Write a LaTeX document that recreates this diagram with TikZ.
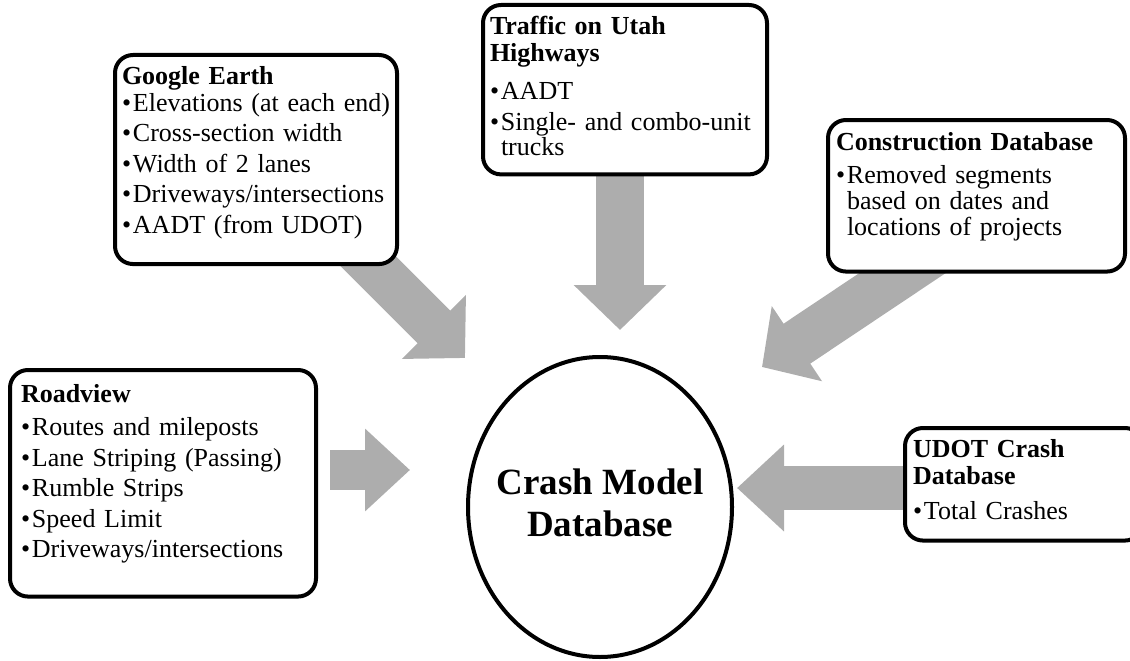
\documentclass[tikz,border=0pt]{standalone}
\usepackage{fontspec}
\setmainfont{Liberation Serif}
\usetikzlibrary{arrows.meta,shapes.geometric,backgrounds,calc}

\newcommand{\bul}[1]{\par\vspace{3.5pt}\noindent\makebox[11pt][l]{\textbullet}\begin{tabular}[t]{@{}l@{}}#1\end{tabular}}
\newcommand{\hd}[1]{{\bfseries #1}\par\vspace{3pt}}

\begin{document}
\begin{tikzpicture}[x=1pt,y=-1pt,
  srcbox/.style={draw=black,line width=4pt,rounded corners=18pt,fill=white,align=left,anchor=north west,inner xsep=8pt,inner ysep=11pt,font=\fontsize{26}{27}\selectfont},
  hub/.style={ellipse,draw=black,line width=4pt,fill=white,inner sep=0pt,minimum width=264pt,minimum height=300pt,font=\fontsize{37}{42}\selectfont\bfseries},
  feed/.style={draw=black!32,line width=#1pt},
  feed/.default=48
]

\useasboundingbox (0,0) rectangle (1130,661);

\node[hub] (db) at (600,507) {\makebox[0pt]{\raisebox{-2pt}{\begin{tabular}{@{}c@{}}Crash Model\\Database\end{tabular}}}};

\node[srcbox,text width=284pt,inner xsep=11pt,inner ysep=14pt] (road) at (8,368) {\hd{Roadview}\bul{Routes and mileposts}\bul{Lane Striping (Passing)}\bul{Rumble Strips}\bul{Speed Limit}\bul{Driveways/intersections\rule[-25pt]{0pt}{1pt}}};

\node[srcbox,text width=268pt,inner xsep=7pt] (earth) at (113,53) {\hd{Google Earth}\vspace{-6.5pt}\bul{Elevations (at each end)}\bul{Cross-section width}\bul{Width of 2 lanes}\bul{Driveways/intersections}\bul{AADT (from UDOT)\rule[-20pt]{0pt}{1pt}}};

\node[srcbox,text width=270pt,inner xsep=7pt] (traffic) at (481,3) {\hd{Traffic on Utah\\Highways}\vspace{5pt}\bul{AADT}\bul{Single- and combo-unit\\[-2pt]trucks}};

\node[srcbox,text width=281pt,inner ysep=12pt] (constr) at (826,118) {\hd{Construction Database}\bul{Removed segments\\[-1pt]based on dates and\\[-1pt]locations of projects\rule[-24pt]{0pt}{1pt}}};

\node[srcbox,text width=222pt] (udot) at (903,426) {\hd{UDOT Crash\\Database}\vspace{2pt}\bul{Total Crashes\rule[-10pt]{0pt}{1pt}}};

\coordinate (tipR) at (410,470);
\coordinate (tipG) at (465,358);
\coordinate (tipT) at (620,330);
\coordinate (tipC) at (762,367);
\coordinate (tipU) at (737,488);
\coordinate (tailR) at (330,470);
\coordinate (tailG) at ($(tipG)+(-140,-140)$);
\coordinate (tailC) at ($(tipC)+(175,-117)$);

\begin{scope}[on background layer]
\draw[feed=40,-{Triangle[length=45pt,width=80pt]}] (tailR) -- (tipR);
\draw[feed=46,-{Triangle[length=44pt,width=88pt]}] (tailG) -- (tipG);
\draw[feed=48,-{Triangle[length=45pt,width=90pt]}] (traffic.south -| tipT) -- (tipT);
\draw[feed=48,-{Triangle[length=42pt,width=88pt]}] (tailC) -- (tipC);
\draw[feed=44,-{Triangle[length=47pt,width=84pt]}] (udot.west |- tipU) -- (tipU);
\end{scope}

\end{tikzpicture}
\end{document}
